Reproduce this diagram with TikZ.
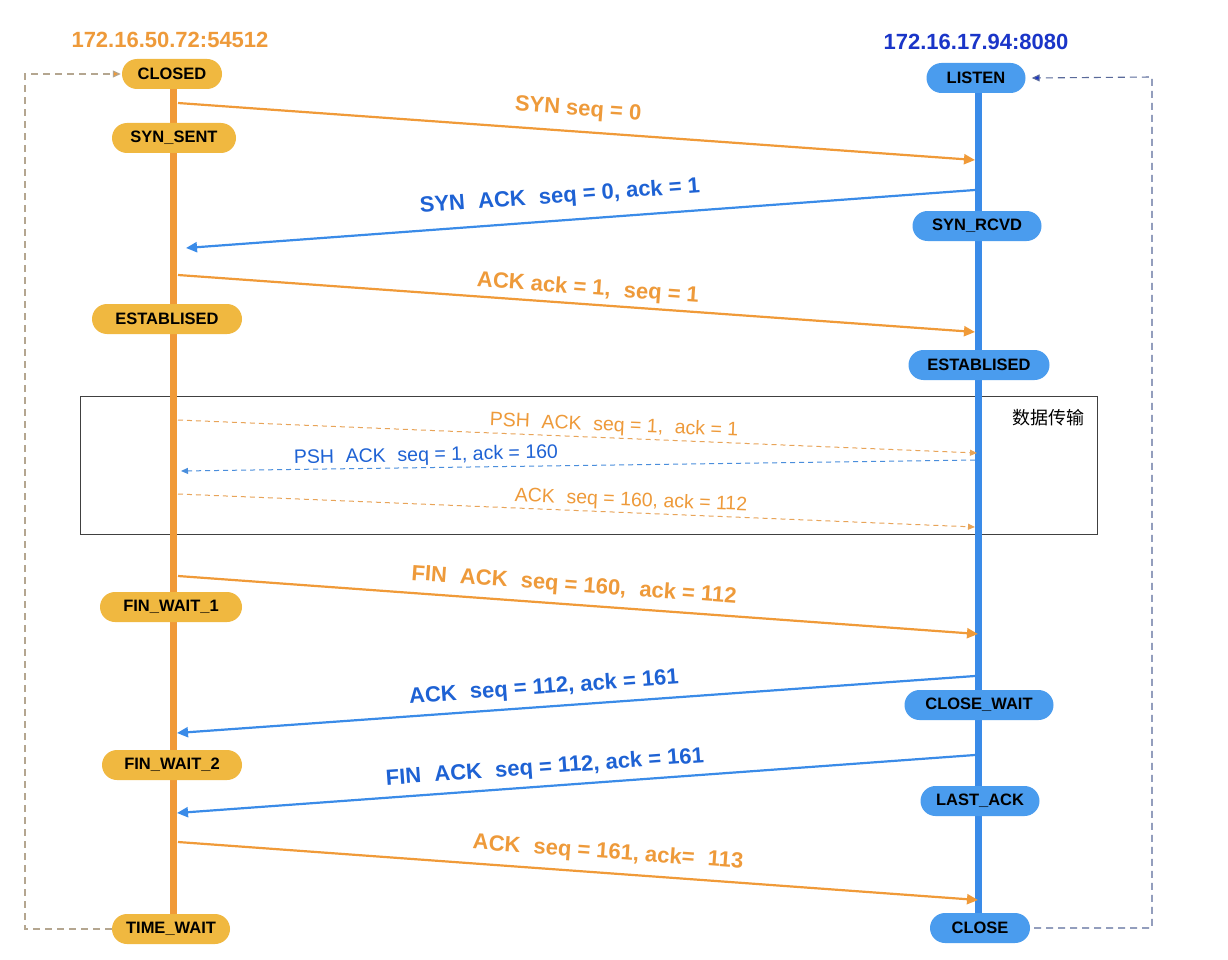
\documentclass[tikz,border=0pt]{standalone}
\usepackage{fontspec}
\setmainfont{Liberation Sans}
\newfontfamily\cjkfont{Noto Sans CJK SC}
\usetikzlibrary{arrows.meta}
\definecolor{nodeor}{HTML}{F0B840}
\definecolor{lineor}{HTML}{F09A38}
\definecolor{nodebl}{HTML}{4A9CEE}
\definecolor{linebl}{HTML}{3A8BE8}
\definecolor{txtbl}{HTML}{1E62D4}
\definecolor{titlebl}{HTML}{1A35C8}
\definecolor{txtor}{HTML}{EE9A3A}
\definecolor{dashor}{HTML}{E8A458}
\definecolor{dashbl}{HTML}{4A8EDC}
\definecolor{loopor}{HTML}{B4A690}
\definecolor{loopbl}{HTML}{5A6A9A}
\newcommand{\dsp}{\hspace{0.6em}}
\begin{document}
\begin{tikzpicture}[x=1pt,y=-1pt,
  state/.style={rounded corners=15pt, minimum height=30pt, inner sep=0pt,
    font=\fontsize{16.5}{16.5}\selectfont\bfseries, text=black},
  ostate/.style={state, fill=nodeor},
  bstate/.style={state, fill=nodebl},
  omsg/.style={draw=lineor, line width=2.2pt, -{Triangle[length=11pt,width=10pt]}},
  bmsg/.style={draw=linebl, line width=2.2pt, -{Triangle[length=11pt,width=10pt]}},
  odash/.style={draw=dashor, line width=1pt, dash pattern=on 5pt off 4pt, -{Triangle[length=7pt,width=6pt]}},
  bdash/.style={draw=dashbl, line width=1pt, dash pattern=on 5pt off 4pt, -{Triangle[length=7pt,width=6pt]}},
  olab/.style={text=txtor, font=\fontsize{22}{22}\selectfont\bfseries, inner sep=0pt},
  blab/.style={text=txtbl, font=\fontsize{22}{22}\selectfont\bfseries, inner sep=0pt},
  odlab/.style={text=txtor, font=\fontsize{19.5}{19.5}\selectfont, inner sep=0pt},
  bdlab/.style={text=txtbl, font=\fontsize{19.5}{19.5}\selectfont, inner sep=0pt},
  lifeo/.style={draw=lineor, line width=7pt},
  lifeb/.style={draw=linebl, line width=7pt},
]
\useasboundingbox (0,0) rectangle (1228,960);
\fill[white] (0,0) rectangle (1228,960);

% titles
\node[text=txtor, font=\fontsize{22}{22}\selectfont\bfseries] (tl) at (170,40) {172.16.50.72:54512};
\node[text=titlebl, font=\fontsize{22}{22}\selectfont\bfseries] (tr) at (976,42) {172.16.17.94:8080};

% data transfer box
\node[draw=black!75, line width=0.8pt, minimum width=1017pt, minimum height=138pt, inner sep=0pt] (box) at (588.5,465) {};
\node[font=\cjkfont\fontsize{18}{18}\selectfont, text=black] (boxlab) at (1048,418) {数据传输};

% lifelines
\coordinate (lt) at (173,74);
\coordinate (lb) at (173,929);
\coordinate (rt) at (978,78);
\coordinate (rb) at (978,928);
\draw[lifeo] (lt) -- (lb);
\draw[lifeb] (rt) -- (rb);

% loops
\coordinate (lc1) at (25,929);
\coordinate (lc2) at (25,74);
\coordinate (rc1) at (1152,928);
\coordinate (rc2) at (1152,77);

% left states
\node[ostate, minimum width=100pt] (closed) at (172,74) {CLOSED};
\node[ostate, minimum width=124pt] (synsent) at (174,138) {SYN\_SENT};
\node[ostate, minimum width=150pt] (estl) at (167,319) {ESTABLISED};
\node[ostate, minimum width=142pt] (fw1) at (171,607) {FIN\_WAIT\_1};
\node[ostate, minimum width=140pt] (fw2) at (172,765) {FIN\_WAIT\_2};
\node[ostate, minimum width=118pt] (tw) at (171,929) {TIME\_WAIT};

% right states
\node[bstate, minimum width=99pt] (listen) at (976,78) {LISTEN};
\node[bstate, minimum width=129pt] (synrcvd) at (977,226) {SYN\_RCVD};
\node[bstate, minimum width=141pt] (estr) at (979,365) {ESTABLISED};
\node[bstate, minimum width=149pt] (cw) at (979,705) {CLOSE\_WAIT};
\node[bstate, minimum width=119pt] (la) at (980,801) {LAST\_ACK};
\node[bstate, minimum width=100pt] (close) at (980,928) {CLOSE};

\draw[draw=loopor, line width=1.1pt, dash pattern=on 7pt off 5pt, -{Triangle[length=8pt,width=7pt,fill=lineor]}]
  (tw.west) -- (lc1) -- (lc2) -- ([xshift=-1pt]closed.west);
\draw[draw=loopbl, line width=1.1pt, dash pattern=on 7pt off 5pt, -{Triangle[length=8pt,width=7pt,fill=titlebl]}]
  ([xshift=4pt]close.east) -- (rc1) -- (rc2) -- ([xshift=6pt]listen.east);

% message endpoints
\coordinate (a1) at (178,103); \coordinate (b1) at (975,160);
\coordinate (a2) at (975,190); \coordinate (b2) at (186,248);
\coordinate (a3) at (178,275); \coordinate (b3) at (975,332);
\coordinate (a4) at (178,420); \coordinate (b4) at (977,453);
\coordinate (a5) at (975,460); \coordinate (b5) at (181,471);
\coordinate (a6) at (178,494); \coordinate (b6) at (975,527);
\coordinate (a7) at (178,576); \coordinate (b7) at (978,634);
\coordinate (a8) at (975,676); \coordinate (b8) at (177,733);
\coordinate (a9) at (975,755); \coordinate (b9) at (177,813);
\coordinate (a10) at (178,842); \coordinate (b10) at (978,900);

\draw[omsg] (a1) -- (b1);
\draw[bmsg] (a2) -- (b2);
\draw[omsg] (a3) -- (b3);
\draw[odash] (a4) -- (b4);
\draw[bdash] (a5) -- (b5);
\draw[odash] (a6) -- (b6);
\draw[omsg] (a7) -- (b7);
\draw[bmsg] (a8) -- (b8);
\draw[bmsg] (a9) -- (b9);
\draw[omsg] (a10) -- (b10);

% labels
\node[olab, rotate=-4.1] (l1) at (578,110) {SYN seq = 0};
\node[blab, rotate=4.2] (l2) at (560,197) {SYN\dsp ACK\dsp seq = 0, ack = 1};
\node[olab, rotate=-4.1] (l3) at (588,289) {ACK ack = 1,\dsp seq = 1};
\node[odlab, rotate=-2.4] (l4) at (614,426) {PSH\dsp ACK\dsp seq = 1,\dsp ack = 1};
\node[bdlab, rotate=1.2] (l5) at (426,456) {PSH\dsp ACK\dsp seq = 1, ack = 160};
\node[odlab, rotate=-2.4] (l6) at (631,501) {ACK\dsp seq = 160, ack = 112};
\node[olab, rotate=-4.1] (l7) at (574,586) {FIN\dsp ACK\dsp seq = 160,\dsp ack = 112};
\node[blab, rotate=4.1] (l8) at (544,688) {ACK\dsp seq = 112, ack = 161};
\node[blab, rotate=4.1] (l9) at (545,768) {FIN\dsp ACK\dsp seq = 112, ack = 161};
\node[olab, rotate=-4.1] (l10) at (608,853) {ACK\dsp seq = 161, ack=\dsp 113};
\end{tikzpicture}
\end{document}
